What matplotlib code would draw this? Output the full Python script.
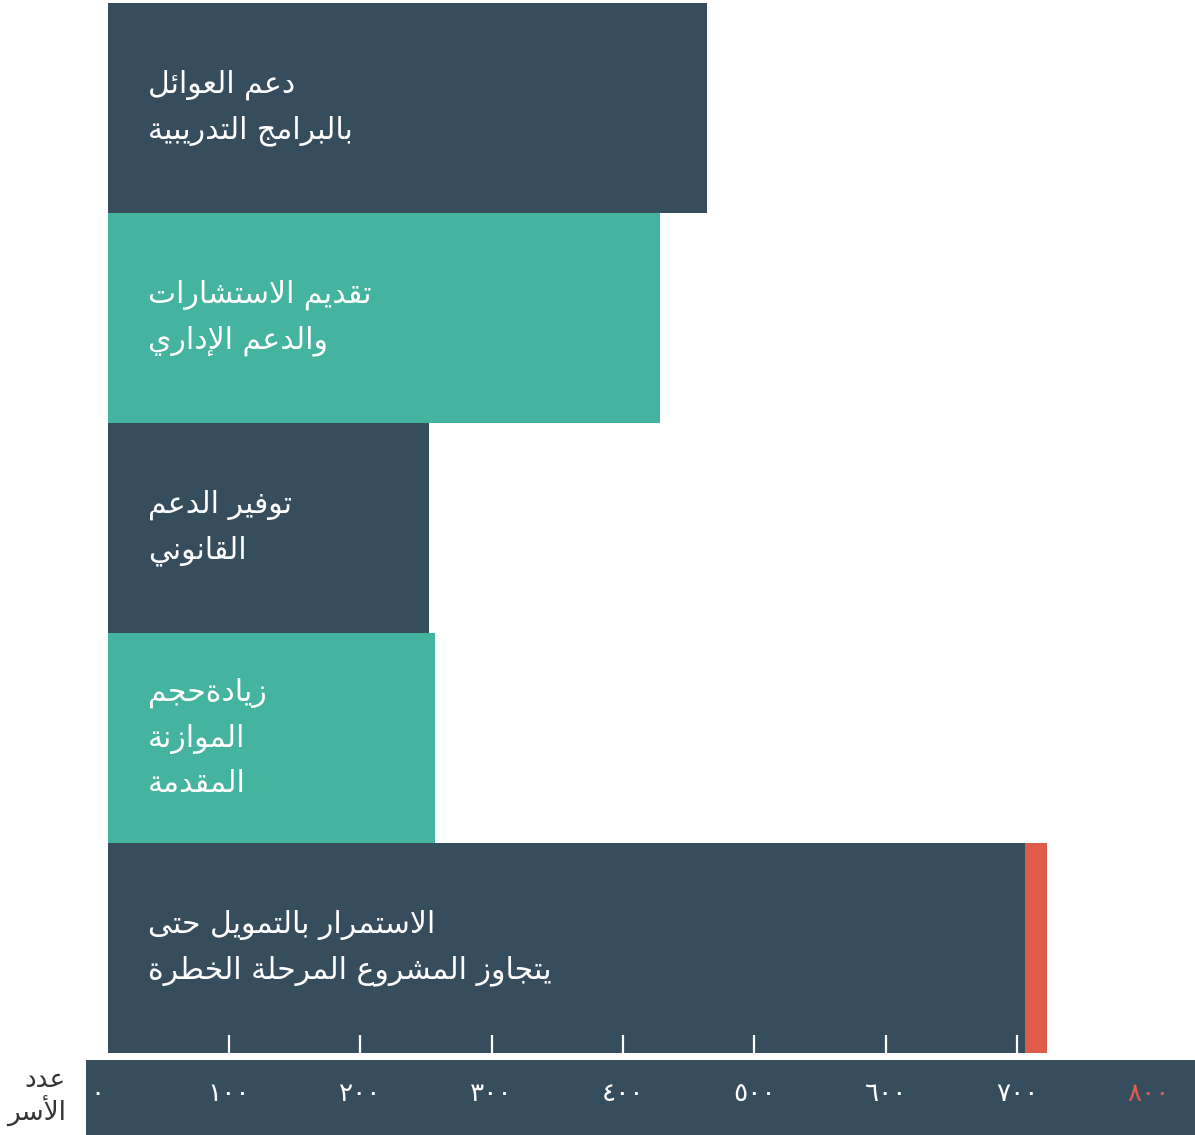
import matplotlib
matplotlib.use("Agg")
import matplotlib.pyplot as plt
import matplotlib.transforms as mtransforms

# ---------------- data ----------------
categories = [
    "دعم العوائل\nبالبرامج التدريبية",
    "تقديم الاستشارات\nوالدعم الإداري",
    "توفير الدعم\nالقانوني",
    "زيادةحجم\nالموازنة\nالمقدمة",
    "الاستمرار بالتمويل حتى\nيتجاوز المشروع المرحلة الخطرة",
]
values = [464, 428, 252, 257, 706]
extra_values = [0, 0, 0, 0, 17]
tick_values = [0, 100, 200, 300, 400, 500, 600, 700, 800]
tick_labels = ["٠", "١٠٠", "٢٠٠", "٣٠٠", "٤٠٠", "٥٠٠", "٦٠٠", "٧٠٠", "٨٠٠"]
axis_title = "عدد\nالأسر"

# ---------------- styles ----------------
DARK = "#364d5d"
TEAL = "#44b39f"
RED = "#e05c4a"
bar_colors = [DARK, TEAL, DARK, TEAL, DARK]

# ---------------- minimal Arabic shaping ----------------
_DUAL = {'ئ': 0xFE89, 'ب': 0xFE8F, 'ت': 0xFE95, 'ث': 0xFE99, 'ج': 0xFE9D,
         'ح': 0xFEA1, 'خ': 0xFEA5, 'س': 0xFEB1, 'ش': 0xFEB5, 'ص': 0xFEB9,
         'ض': 0xFEBD, 'ط': 0xFEC1, 'ظ': 0xFEC5, 'ع': 0xFEC9, 'غ': 0xFECD,
         'ف': 0xFED1, 'ق': 0xFED5, 'ك': 0xFED9, 'ل': 0xFEDD, 'م': 0xFEE1,
         'ن': 0xFEE5, 'ه': 0xFEE9, 'ي': 0xFEF1}
_RIGHT = {'آ': 0xFE81, 'أ': 0xFE83, 'ؤ': 0xFE85, 'إ': 0xFE87, 'ا': 0xFE8D,
          'ة': 0xFE93, 'د': 0xFEA9, 'ذ': 0xFEAB, 'ر': 0xFEAD, 'ز': 0xFEAF,
          'و': 0xFEED, 'ى': 0xFEEF}
_LAMALEF = {'آ': 0xFEF5, 'أ': 0xFEF7, 'إ': 0xFEF9, 'ا': 0xFEFB}


def shape_line(s):
    units = []
    i = 0
    while i < len(s):
        c = s[i]
        if c == 'ل' and i + 1 < len(s) and s[i + 1] in _LAMALEF:
            units.append(('R', _LAMALEF[s[i + 1]]))
            i += 2
            continue
        if c in _DUAL:
            units.append(('D', _DUAL[c]))
        elif c in _RIGHT:
            units.append(('R', _RIGHT[c]))
        else:
            units.append(('N', c))
        i += 1
    out = []
    for k, (kind, base) in enumerate(units):
        if kind == 'N':
            out.append(base)
            continue
        prev_join = k > 0 and units[k - 1][0] == 'D'
        next_join = kind == 'D' and k + 1 < len(units) and units[k + 1][0] in ('D', 'R')
        if kind == 'D':
            off = 3 if (prev_join and next_join) else 1 if prev_join else 2 if next_join else 0
        else:
            off = 1 if prev_join else 0
        out.append(chr(base + off))
    return "".join(out)[::-1]


def shape(text):
    return "\n".join(shape_line(l) for l in text.split("\n"))


plt.rcParams['font.family'] = ['DejaVu Sans']

W, H = 1195, 1135
fig = plt.figure(figsize=(W / 100, H / 100), dpi=100)

px_per_unit = 131.33 / 100.0
zero_px = 97.7


def px2val(px):
    return (px - zero_px) / px_per_unit


# ---------------- bars axes ----------------
bl, br, bt, bb = 108, 1195, 3, 1053
ax = fig.add_axes([bl / W, (H - bb) / H, (br - bl) / W, (bb - bt) / H])
n = len(values)
ypos = list(range(n))
ax.barh(ypos, values, height=1.0, color=bar_colors, left=0, zorder=1)
ax.barh(ypos, extra_values, height=1.0, left=values, color=RED, zorder=1)
ax.set_xlim(px2val(bl), px2val(br))
ax.set_ylim(n - 0.5, -0.5)
for s in ax.spines.values():
    s.set_visible(False)
ax.set_yticks([])
ax.set_xticks(tick_values[1:])
ax.tick_params(axis='x', direction='in', length=13, width=1.6, color='white',
               labelbottom=False, bottom=True)
ax.set_axisbelow(False)
ax.patch.set_alpha(0)

trans = mtransforms.blended_transform_factory(ax.transAxes, ax.transData)
for i, lab in enumerate(categories):
    ax.text(40 / (br - bl), i, shape(lab), transform=trans, ha='left', va='center',
            color='white', fontsize=21.5, linespacing=1.68, multialignment='left')

# ---------------- bottom band axes ----------------
al, ar, at, ab = 86, 1195, 1060, 1135
ax2 = fig.add_axes([al / W, (H - ab) / H, (ar - al) / W, (ab - at) / H])
ax2.set_facecolor(DARK)
ax2.set_xlim(px2val(al), px2val(ar))
ax2.set_ylim(0, 1)
for s in ax2.spines.values():
    s.set_visible(False)
ax2.set_xticks([])
ax2.set_yticks([])
for v, lab in zip(tick_values, tick_labels):
    col = RED if v == 800 else 'white'
    ax2.text(v, 0.55, lab, ha='center', va='center', color=col, fontsize=19)

fig.text(66 / W, 1 - 1097 / H, shape(axis_title), ha='right', va='center',
         multialignment='right', color='#333333', fontsize=19, linespacing=1.15)

fig.savefig("out.png", dpi=100)
